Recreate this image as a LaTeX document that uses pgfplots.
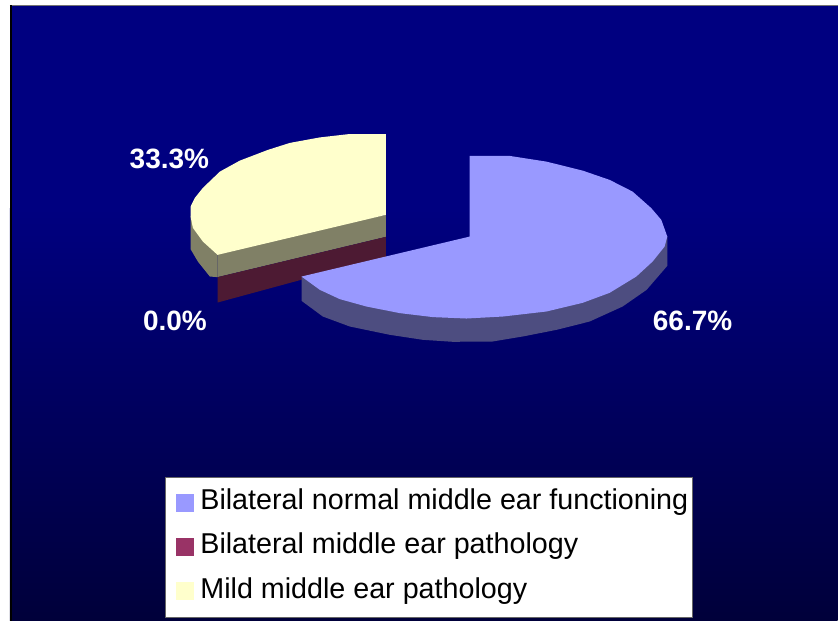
\documentclass[border=0pt]{standalone}
\usepackage{pgfplots}
\pgfplotsset{compat=1.18}
\usepackage{fontspec}
\setmainfont{Liberation Sans}

\definecolor{navytop}{RGB}{0,0,128}
\definecolor{navybot}{RGB}{0,0,58}
\definecolor{slicea}{RGB}{153,153,255}
\definecolor{sliceaside}{RGB}{77,77,128}
\definecolor{sliceb}{RGB}{153,51,102}
\definecolor{slicebside}{RGB}{77,26,51}
\definecolor{slicec}{RGB}{255,255,204}
\definecolor{slicecside}{RGB}{128,128,102}

\begin{document}
\begin{tikzpicture}
\begin{axis}[
scale only axis,
width=838pt, height=621pt,
xmin=0, xmax=838,
ymin=0, ymax=621,
y dir=reverse,
hide axis,
clip=false,
no markers,
legend cell align=left,
legend style={
  at={(axis cs:165,477)}, anchor=north west,
  draw=black!60, line width=1pt, fill=white, text=black,
  font=\fontsize{28.7}{32}\selectfont,
  inner xsep=2pt, inner ysep=9.5pt,
  row sep=11.5pt,
  nodes={text depth=8pt},
},
legend image code/.code={
  \path[draw=none, fill=none] (-9pt,0pt) -- (22pt,0pt);
  \fill[#1, draw=none] (0pt,-8.5pt) rectangle (18pt,9.5pt);
},
]
% page and background
\addplot[forget plot, draw=none, fill=white] coordinates {(0,0) (838,0) (838,621) (0,621)} --cycle;
\fill[navytop] (axis cs:10,5) rectangle (axis cs:838,210);
\shade[top color=navytop, bottom color=navybot, shading angle=0]
  (axis cs:10,209) rectangle (axis cs:838,621);
\draw[black!55, line width=1pt] (axis cs:10,5.5) -- (axis cs:838,5.5);
\draw[black, line width=2.5pt] (axis cs:11.2,5) -- (axis cs:11.2,621);

% yellow slice, side
\addplot[forget plot, draw=none, fill=slicecside] coordinates {
(386,215) (386,237) (217.7,277.3) (210,276.7) (198,261.7) (190.7,249.3) (190.7,216) (217.7,250)
} --cycle;
% zero slice, cut face only
\addplot[forget plot, draw=none, fill=slicebside] coordinates {
(386,237) (386,257) (217.7,302.7) (217.7,277.3)
} --cycle;
\addplot[forget plot, black!60, line width=0.6pt] coordinates {(217.7,255) (217.7,277.3)};
% yellow slice, top
\addplot[forget plot, draw=none, fill=slicec] coordinates {
(386,134.3) (386,215) (217.7,255) (203,241.7) (193,228) (190.7,216.7) (190.7,206.7)
(195,198) (203,188) (220,171.7) (240,160.7) (268,150) (290,143) (320,137.5) (348,134.3)
} --cycle;
% blue slice, side
\addplot[forget plot, draw=none, fill=sliceaside] coordinates {
(301.7,276.7) (301.7,301) (323,316.7) (350,326.7) (390,335) (423,340) (453,342) (493,341.7)
(523,336.7) (557,330) (590,321.7) (623,306.7) (647,290) (667.7,266) (667.7,236.7)
} --cycle;
% blue slice, top
\addplot[forget plot, draw=none, fill=slicea] coordinates {
(470,156) (470,236.7) (301.7,276.7) (320,290) (340,299.3) (366.7,306.7) (400,313.3)
(433.3,317.3) (466.7,318.7) (503.3,316.7) (546.7,311.7) (583,303) (610,293) (636.7,276.7)
(653,261.7) (665,246.7) (667.7,236.7) (661.7,220) (651.7,208.3) (633,191.7) (610,180)
(583,170.7) (546.7,161.7) (510,156)
} --cycle;

% data labels
\node[white, font=\fontsize{28}{30}\selectfont\bfseries] at (axis cs:169.5,159) {33.3\%};
\node[white, font=\fontsize{28}{30}\selectfont\bfseries] at (axis cs:175,321) {0.0\%};
\node[white, font=\fontsize{28}{30}\selectfont\bfseries] at (axis cs:693,321) {66.7\%};

% legend
\addlegendimage{fill=slicea}
\addlegendentry{Bilateral normal middle ear functioning}
\addlegendimage{fill=sliceb}
\addlegendentry{Bilateral middle ear pathology}
\addlegendimage{fill=slicec}
\addlegendentry{Mild middle ear pathology}
\end{axis}
\end{tikzpicture}
\end{document}
